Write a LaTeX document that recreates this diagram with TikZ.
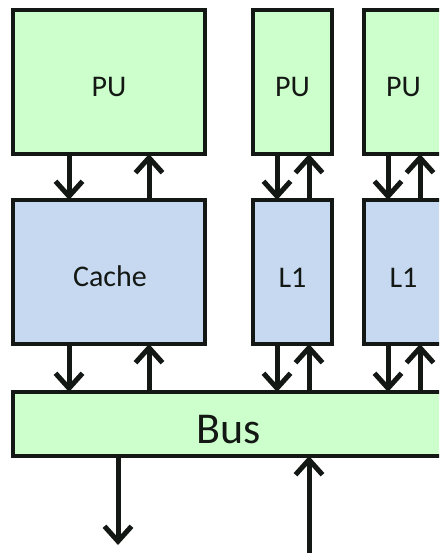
\documentclass[tikz,border=0pt]{standalone}
\usepackage{fontspec}
\setmainfont{Carlito}
\usetikzlibrary{arrows.meta,calc}
\definecolor{pugreen}{RGB}{204,255,204}
\definecolor{cacheblue}{RGB}{198,217,240}
\definecolor{inkc}{RGB}{20,24,20}
\begin{document}
\begin{tikzpicture}[x=1pt,y=-1pt,
  box/.style={draw=inkc, line width=3.5pt, inner sep=0pt, outer sep=0pt},
  greenbox/.style={box, fill=pugreen},
  bluebox/.style={box, fill=cacheblue},
  lbl/.style={anchor=base, inner sep=0pt, text=inkc, font=\fontsize{30}{30}\selectfont},
  buslbl/.style={anchor=base, inner sep=0pt, text=inkc, font=\fontsize{44}{44}\selectfont},
  arr/.style={draw=inkc, line width=5pt, -{Straight Barb[length=15pt,width=27pt]}}]
\useasboundingbox (0,0) rectangle (439,553);
\clip (0,0) rectangle (439,553);
% processing units
\node[greenbox, minimum width=192pt, minimum height=144pt] (puA) at (109,82) {};
\node[greenbox, minimum width=79pt, minimum height=144pt] (puB) at (292.5,82) {};
\node[greenbox, minimum width=79pt, minimum height=144pt] (puC) at (403.5,82) {};
% caches
\node[bluebox, minimum width=192pt, minimum height=144pt] (cacheA) at (109,272) {};
\node[bluebox, minimum width=79pt, minimum height=144pt] (l1B) at (292.5,272) {};
\node[bluebox, minimum width=79pt, minimum height=144pt] (l1C) at (403.5,272) {};
% bus
\node[greenbox, minimum width=432pt, minimum height=64pt] (bus) at (229,424) {};
% labels
\node[lbl] (puAt) at (109,97) {PU};
\node[lbl] (puBt) at (292.5,97) {PU};
\node[lbl] (puCt) at (403.5,97) {PU};
\node[lbl] (cacheAt) at (110,286) {Cache};
\node[lbl] (l1Bt) at (292.5,287) {L1};
\node[lbl] (l1Ct) at (403.5,287) {L1};
\node[buslbl] (bust) at (229,443) {Bus};
% PU <-> cache
\draw[arr] ([xshift=-40pt]puA.south) -- ([xshift=-40pt]cacheA.north);
\draw[arr] ([xshift=40pt]cacheA.north) -- ([xshift=40pt]puA.south);
\draw[arr] ([xshift=-15.5pt]puB.south) -- ([xshift=-15.5pt]l1B.north);
\draw[arr] ([xshift=16.5pt]l1B.north) -- ([xshift=16.5pt]puB.south);
\draw[arr] ([xshift=-15.5pt]puC.south) -- ([xshift=-15.5pt]l1C.north);
\draw[arr] ([xshift=16.5pt]l1C.north) -- ([xshift=16.5pt]puC.south);
% cache <-> bus
\draw[arr] ([xshift=-40pt]cacheA.south) -- (bus.north -| {$(cacheA.south)+(-40pt,0)$});
\draw[arr] (bus.north -| {$(cacheA.south)+(40pt,0)$}) -- ([xshift=40pt]cacheA.south);
\draw[arr] ([xshift=-15.5pt]l1B.south) -- (bus.north -| {$(l1B.south)+(-15.5pt,0)$});
\draw[arr] (bus.north -| {$(l1B.south)+(16.5pt,0)$}) -- ([xshift=16.5pt]l1B.south);
\draw[arr] ([xshift=-15.5pt]l1C.south) -- (bus.north -| {$(l1C.south)+(-15.5pt,0)$});
\draw[arr] (bus.north -| {$(l1C.south)+(16.5pt,0)$}) -- ([xshift=16.5pt]l1C.south);
% bus external
\coordinate (outEnd) at (118,545);
\coordinate (inStart) at (309,560);
\draw[arr] (bus.south -| outEnd) -- (outEnd);
\draw[arr] (inStart) -- (bus.south -| inStart);
\end{tikzpicture}
\end{document}
